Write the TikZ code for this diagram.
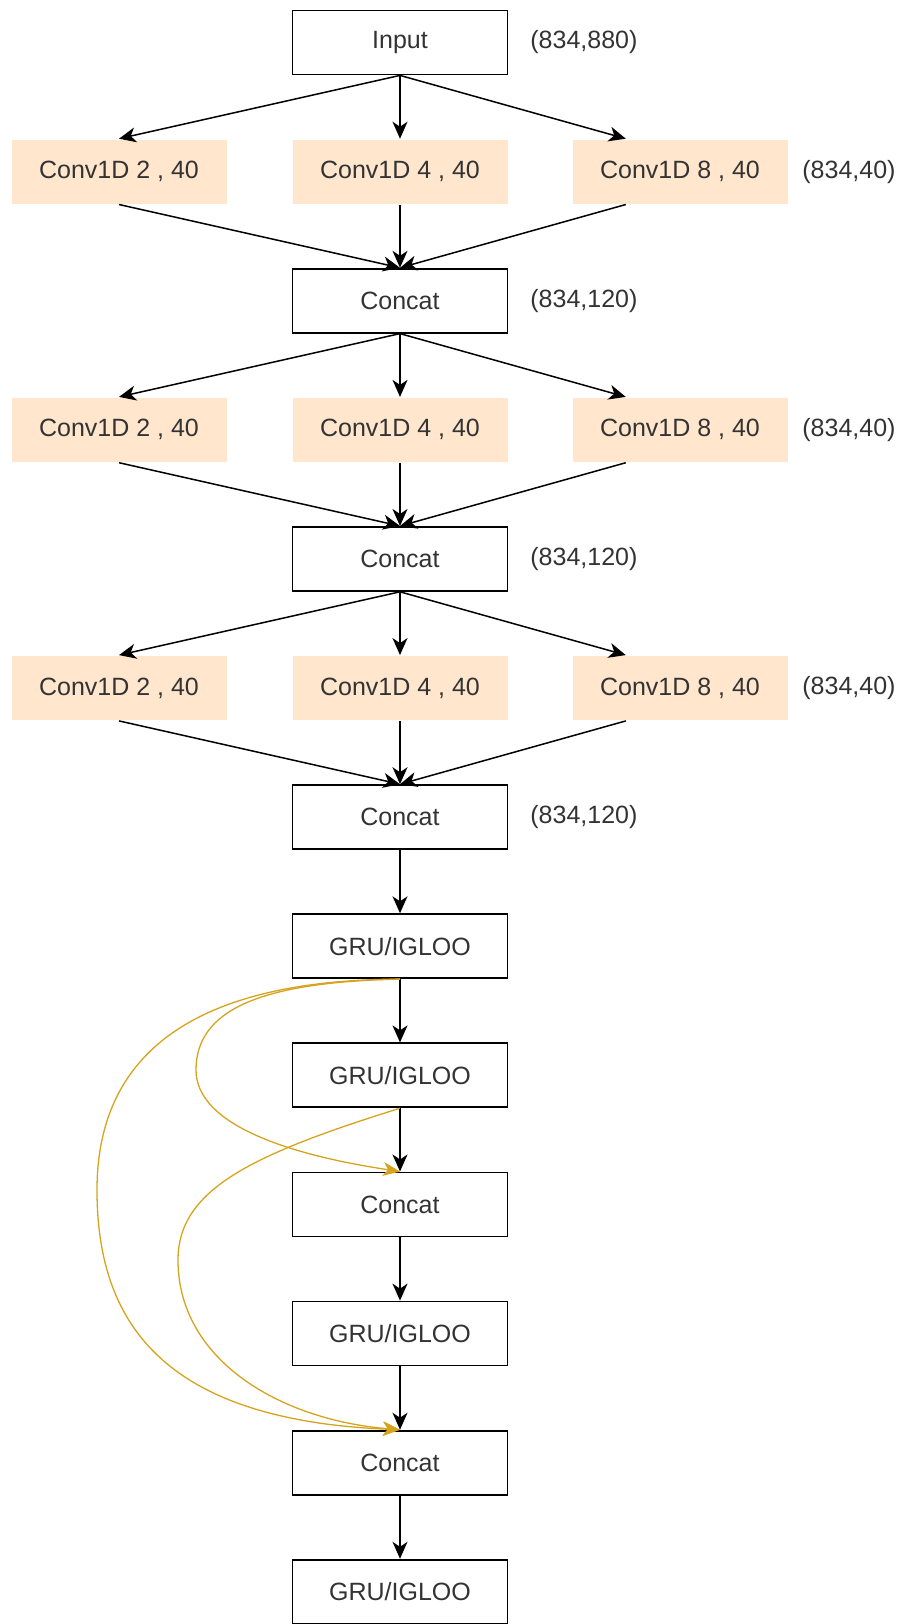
\documentclass[tikz,border=0pt]{standalone}
\usepackage{fontspec}
\setmainfont{Liberation Sans}
\usetikzlibrary{arrows.meta,calc}
\definecolor{peach}{RGB}{255,230,205}
\definecolor{gold}{RGB}{214,163,30}

\begin{document}
\begin{tikzpicture}[x=0.5pt,y=-0.5pt,
   box/.style={rectangle,draw,line width=0.9pt,minimum width=107.5pt,
    minimum height=32pt,inner sep=0pt,text=black!80,
    font=\fontsize{12.5}{15}\selectfont},
   conv/.style={box,draw=none,fill=peach},
   dims/.style={anchor=west,inner sep=0pt,text=black!80,
    font=\fontsize{12.5}{15}\selectfont},
   flow/.style={line width=0.75pt,-{Stealth[length=8.5pt,width=7.5pt,inset=2.5pt]}},
   skip/.style={line width=0.65pt,draw=gold,
    -{Stealth[length=8.5pt,width=7pt,inset=2.5pt,fill=gold]}}
    ]
    \useasboundingbox (0,0) rectangle (908,1624);

    % Boxes:
    \node[box] at (400,42.5) (inp) {Input};
    \node[conv] at (119,171.6) (a2) {Conv1D 2 , 40};
    \node[conv] at (400,171.6) (a4) {Conv1D 4 , 40};
    \node[conv] at (680,171.6) (a8) {Conv1D 8 , 40};
    \node[box] at (400,300.7) (cat1) {Concat};
    \node[conv] at (119,429.8) (b2) {Conv1D 2 , 40};
    \node[conv] at (400,429.8) (b4) {Conv1D 4 , 40};
    \node[conv] at (680,429.8) (b8) {Conv1D 8 , 40};
    \node[box] at (400,558.9) (cat2) {Concat};
    \node[conv] at (119,688) (d2) {Conv1D 2 , 40};
    \node[conv] at (400,688) (d4) {Conv1D 4 , 40};
    \node[conv] at (680,688) (d8) {Conv1D 8 , 40};
    \node[box] at (400,817.1) (cat3) {Concat};
    \node[box] at (400,946.2) (g1) {GRU/IGLOO};
    \node[box] at (400,1075.3) (g2) {GRU/IGLOO};
    \node[box] at (400,1204.4) (cat4) {Concat};
    \node[box] at (400,1333.5) (g3) {GRU/IGLOO};
    \node[box] at (400,1462.6) (cat5) {Concat};
    \node[box] at (400,1591.7) (g4) {GRU/IGLOO};

    % Shapes:
    \node[dims] at (530,42.5) (dinp) {(834,880)};
    \node[dims] at (802,171.6) (da) {(834,40)};
    \node[dims] at (530,300.7) (dcat1) {(834,120)};
    \node[dims] at (802,429.8) (db) {(834,40)};
    \node[dims] at (530,558.9) (dcat2) {(834,120)};
    \node[dims] at (802,688) (dd) {(834,40)};
    \node[dims] at (530,817.1) (dcat3) {(834,120)};

    % arrows

    \draw[flow] (inp.south) -- (a2.north);
    \draw[flow] (inp.south) -- (a4.north);
    \draw[flow] (inp.south) -- ($(a8.north west)!0.25!(a8.north east)$);
    \draw[flow] (a2.south) -- (cat1.north);
    \draw[flow] (a4.south) -- (cat1.north);
    \draw[flow] ($(a8.south west)!0.25!(a8.south east)$) -- (cat1.north);

    \draw[flow] (cat1.south) -- (b2.north);
    \draw[flow] (cat1.south) -- (b4.north);
    \draw[flow] (cat1.south) -- ($(b8.north west)!0.25!(b8.north east)$);
    \draw[flow] (b2.south) -- (cat2.north);
    \draw[flow] (b4.south) -- (cat2.north);
    \draw[flow] ($(b8.south west)!0.25!(b8.south east)$) -- (cat2.north);

    \draw[flow] (cat2.south) -- (d2.north);
    \draw[flow] (cat2.south) -- (d4.north);
    \draw[flow] (cat2.south) -- ($(d8.north west)!0.25!(d8.north east)$);
    \draw[flow] (d2.south) -- (cat3.north);
    \draw[flow] (d4.south) -- (cat3.north);
    \draw[flow] ($(d8.south west)!0.25!(d8.south east)$) -- (cat3.north);

    \draw[flow] (cat3.south) -- (g1.north);
    \draw[flow] (g1.south) -- (g2.north);
    \draw[flow] (g2.south) -- (cat4.north);
    \draw[flow] (cat4.south) -- (g3.north);
    \draw[flow] (g3.south) -- (cat5.north);
    \draw[flow] (cat5.south) -- (g4.north);

    % skip connections

    \draw[skip] (g1.south) .. controls (260,982) and (196,1010) .. (196,1070)
      .. controls (196,1125) and (290,1155) .. (cat4.north);
    \draw[skip] (g1.south) .. controls (160,980) and (97,1080) .. (97,1190)
      .. controls (97,1320) and (160,1420) .. (cat5.north);
    \draw[skip] (g2.south) .. controls (250,1155) and (178,1190) .. (178,1260)
      .. controls (178,1360) and (280,1420) .. (cat5.north);

\end{tikzpicture}
\end{document}
